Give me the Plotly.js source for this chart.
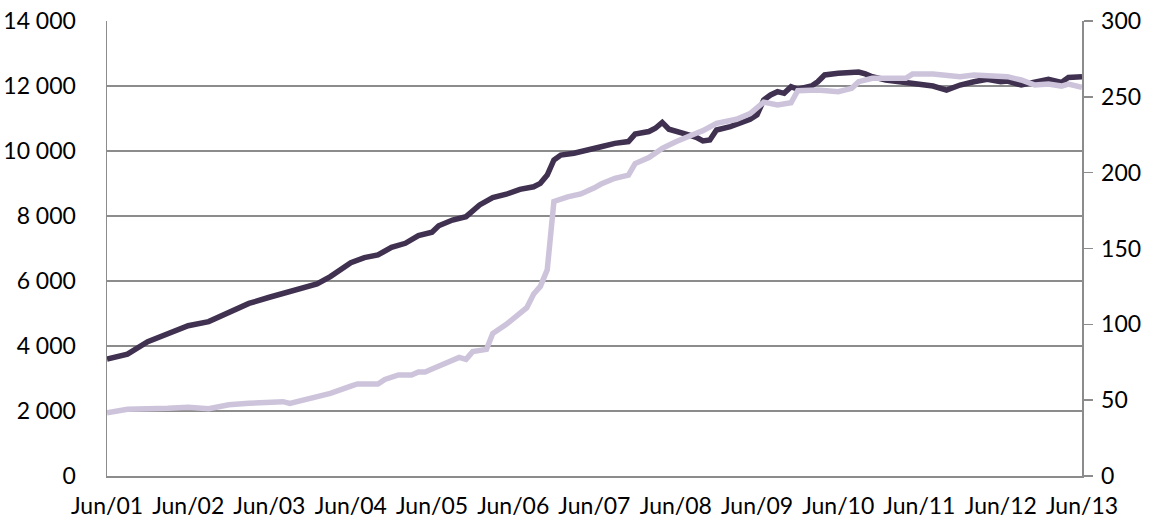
<!DOCTYPE html>
<html>
<head>
<meta charset="utf-8">
<script src="https://cdn.plot.ly/plotly-3.0.1.min.js"></script>
<style>
  html, body { margin: 0; padding: 0; background: #ffffff; }
  #chart { width: 1159px; height: 523px; }
</style>
</head>
<body>
<div id="chart"></div>
<script>
// Month offsets from Jun 2001 and values
const darkMonths = [0,3,6,9,12,15,18,21,24,26,29,31,33,36,38,40,42,44,46,48,49,51,53,55,57,59,61,63,64,65,66,67,69,71,73,75,77,78,80,81,82,83,84,86,87,88,89,90,92,94,95,96,97,98,99,100,101,102,104,105,106,108,111,112,113,115,117,119,122,124,126,128,130,132,133,135,137,139,141,142,144];
const darkValues = [3600,3750,4130,4390,4625,4750,5025,5310,5500,5620,5805,5910,6135,6565,6720,6800,7035,7160,7395,7500,7700,7875,7980,8340,8565,8670,8820,8900,9005,9260,9725,9875,9930,10050,10130,10235,10290,10520,10600,10700,10880,10670,10595,10490,10420,10310,10340,10645,10750,10870,10975,11110,11570,11725,11825,11775,11980,11900,12000,12130,12340,12390,12430,12370,12285,12185,12130,12050,12000,11875,12030,12130,12205,12130,12150,12030,12130,12205,12110,12265,12285];

const lightMonths = [0,3,9,12,15,18,21,24,26,27,30,33,36,37,40,41,43,45,46,47,48,50,52,53,54,56,57,59,60,62,63,64,65,66,68,70,72,73,75,77,78,80,82,84,87,88,90,93,95,96,97,99,101,102,105,108,110,111,113,118,119,122,124,126,128,130,133,135,137,139,141,142,144];
const lightValues = [41.7,44,44.6,45.3,44.4,47,47.9,48.8,49,47.9,51.2,54.5,59.3,60.7,60.7,63.7,66.6,66.6,68.6,68.6,70.5,74,78.2,76.9,82,83.5,94,100,104,111,120,125,136,181,184,186,190,192.5,196.3,198.4,206,210,216,220.4,226,227.7,232.5,235.2,239,242.4,246.5,244.6,246.1,254,254.5,253.4,255.6,260,262.2,262.2,265,265,264.4,263.3,264.4,263.7,263.3,261.1,257.8,258.4,257.1,258.4,256.3];

const tickYears = [2001,2002,2003,2004,2005,2006,2007,2008,2009,2010,2011,2012,2013];
const tickLabels = ["Jun/01","Jun/02","Jun/03","Jun/04","Jun/05","Jun/06","Jun/07","Jun/08","Jun/09","Jun/10","Jun/11","Jun/12","Jun/13"];
const leftTicks = [0,2000,4000,6000,8000,10000,12000,14000];
const leftTickText = ["0","2 000","4 000","6 000","8 000","10 000","12 000","14 000"];
const rightTicks = [0,50,100,150,200,250,300];

function monthToDate(m) {
  const y = 2001 + Math.floor((5 + m) / 12);
  const mo = (5 + m) % 12 + 1;
  return y + "-" + String(mo).padStart(2, "0") + "-01";
}

const darkX = darkMonths.map(monthToDate);
const lightX = lightMonths.map(monthToDate);
const tickVals = tickYears.map(y => y + "-06-01");

const gridCol = "#8c8c8c";
const font = {family: "Lato, 'Open Sans', sans-serif", size: 23, color: "#000000"};

const traces = [
  {x: darkX, y: darkValues, type: "scatter", mode: "lines", yaxis: "y",
   line: {color: "#403151", width: 5.5}, hoverinfo: "skip"},
  {x: lightX, y: lightValues, type: "scatter", mode: "lines", yaxis: "y2",
   line: {color: "#cdc4db", width: 5.5}, hoverinfo: "skip"}
];

const layout = {
  width: 1159, height: 523,
  margin: {l: 107, r: 77, t: 21, b: 47},
  paper_bgcolor: "#ffffff", plot_bgcolor: "#ffffff",
  showlegend: false,
  font: font,
  xaxis: {
    type: "date", range: ["2001-06-01", "2013-06-01"],
    tickmode: "array", tickvals: tickVals, ticktext: tickLabels,
    showgrid: false, zeroline: false,
    showline: true, linecolor: gridCol, linewidth: 1.5,
    ticks: "", ticklabelstandoff: 9,
    tickfont: font
  },
  yaxis: {
    range: [0, 14000], tickmode: "array", tickvals: leftTicks, ticktext: leftTickText,
    showgrid: true, gridcolor: gridCol, gridwidth: 1.3,
    zeroline: false, showline: true, linecolor: gridCol, linewidth: 1.5,
    ticks: "", ticklabelstandoff: 25,
    tickfont: font
  },
  yaxis2: {
    range: [0, 300], tickmode: "array", tickvals: rightTicks,
    overlaying: "y", side: "right",
    showgrid: false, zeroline: false, showline: true, linecolor: gridCol, linewidth: 1.5,
    ticks: "outside", ticklen: 9, tickcolor: gridCol, tickwidth: 1.5,
    ticklabelstandoff: 4,
    tickfont: font
  }
};

Plotly.newPlot("chart", traces, layout, {staticPlot: true, displayModeBar: false});
</script>
</body>
</html>
